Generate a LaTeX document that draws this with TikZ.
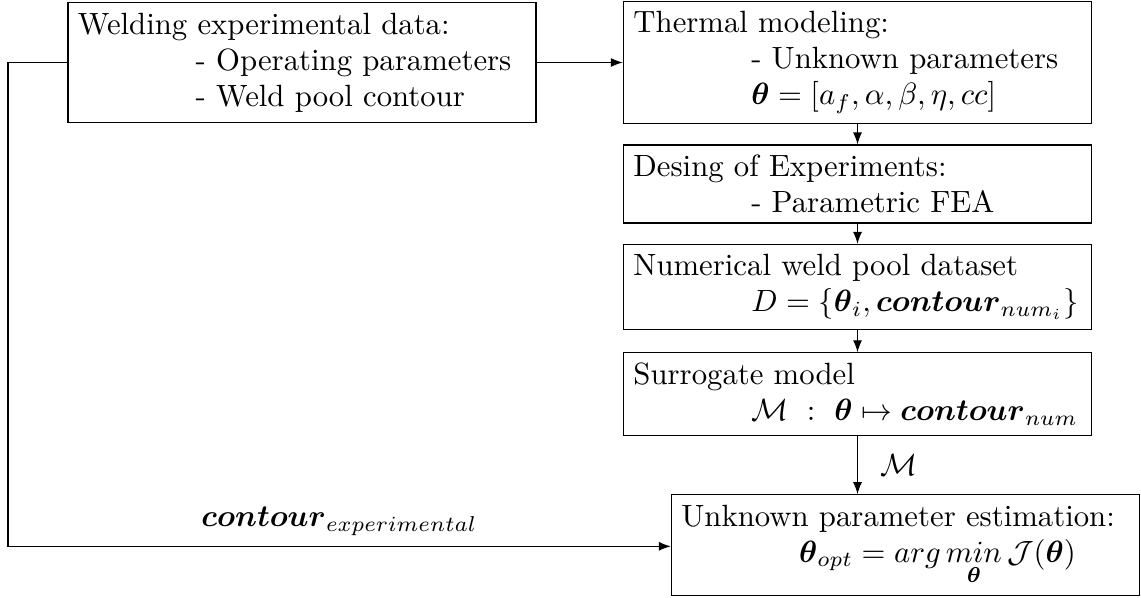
\RequirePackage{fix-cm}
\documentclass[tikz,border=0pt]{standalone}
\usepackage{amsmath, amssymb}
\usepackage{tikz}
\usetikzlibrary{arrows.meta, positioning}

\tikzset{
  block/.style={draw, rectangle, text width=5.25cm, align=left},
  flow/.style={-{Latex[length=4pt, width=3pt]}}
}
\newcommand{\ind}{\hspace*{1.38cm}}

\begin{document}
\begin{tikzpicture}[every node/.style={font=\fontsize{10.25}{12}\selectfont}]
  \useasboundingbox (0,0) rectangle (13.367,-6.994);
  \node[block] (Exp) at (3.538,-0.732) {Welding experimental data:\\
    \ind - Operating parameters\\
    \ind - Weld pool contour};
  \node[block] (Thermal) at (10.046,-0.732) {Thermal modeling:\\
    \ind - Unknown parameters\\
    \ind ${\boldsymbol{\theta} = [a_f, \alpha, \beta, \eta, cc]}$};
  \node[block] (DoE) at (10.046,-2.156) {Desing of Experiments:\\
    \ind - Parametric FEA};
  \node[block] (Data) at (10.046,-3.362) {Numerical weld pool dataset\\
    \ind ${D = \{\boldsymbol{\theta}_i, \boldsymbol{contour}_{num_i}\}}$};
  \node[block] (Surr) at (10.046,-4.616) {Surrogate model\\
    \ind ${\mathcal{M}\ :\ \boldsymbol{\theta} \mapsto \boldsymbol{contour}_{num}}$};
  \node[block] (Opt) at (10.608,-6.385) {Unknown parameter estimation:\\
    \ind ${\boldsymbol{\theta}_{opt} = arg\,\underset{\boldsymbol{\theta}}{min}\,\mathcal{J}(\boldsymbol{\theta})}$};
  \coordinate (Corner) at (0.094,-6.4);

  \draw[flow] (Exp) -- (Thermal);
  \draw[flow] (Thermal) -- (DoE);
  \draw[flow] (DoE) -- (Data);
  \draw[flow] (Data) -- (Surr);
  \draw[flow] (Surr.south) -- (Surr.south |- Opt.north) node[midway, right=4pt] {$\mathcal{M}$};
  \draw[flow] (Exp.west) -| (Corner) -- (Corner -| Opt.west)
    node[midway, above] {$\boldsymbol{contour}_{experimental}$};
\end{tikzpicture}
\end{document}
